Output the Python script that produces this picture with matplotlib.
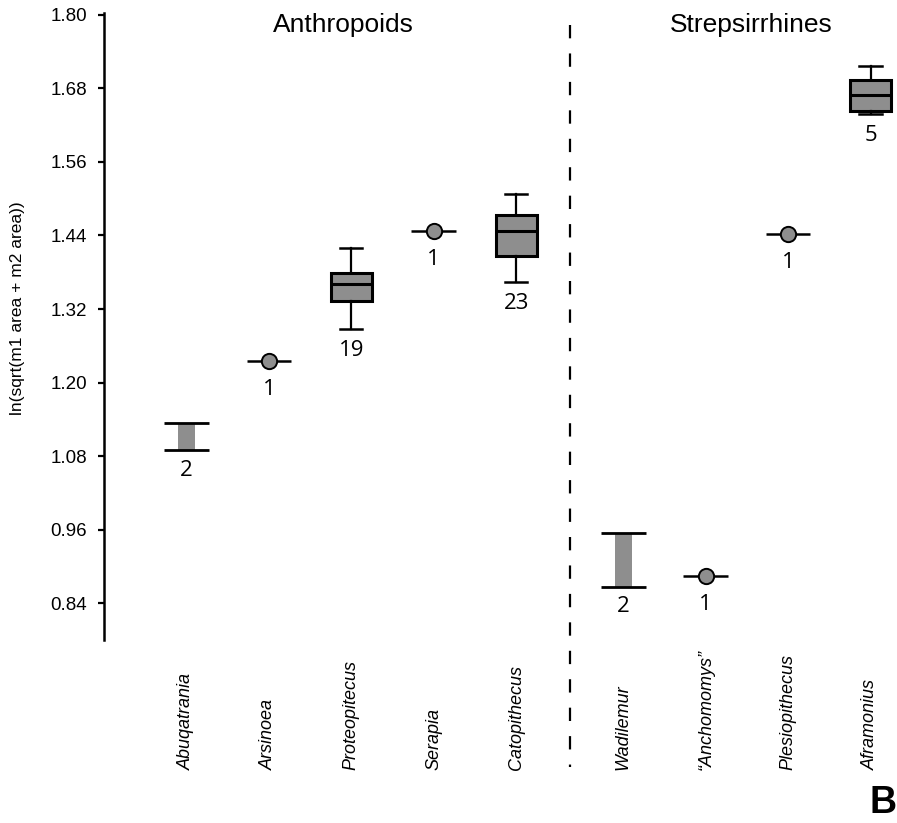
"""Lower molar size (ln sqrt(m1 + m2 area)) of Fayum anthropoids vs strepsirrhines."""
import matplotlib
import numpy as np

matplotlib.use("Agg")
import matplotlib.pyplot as plt  # noqa: E402
from matplotlib.transforms import blended_transform_factory  # noqa: E402

GENERA = [
    "Abuqatrania", "Arsinoea", "Proteopitecus", "Serapia", "Catopithecus",
    "Wadilemur", "\u201cAnchomomys\u201d", "Plesiopithecus", "Aframonius",
]
GROUPS = ["Anthropoids"] * 5 + ["Strepsirrhines"] * 4
COUNTS = [2, 1, 19, 1, 23, 2, 1, 1, 5]

# min / max are whisker ends (or the two specimens, or the single value)
V_MIN = [1.090, 1.235, 1.288, 1.448, 1.364, 0.867, 0.885, 1.443, 1.638]
V_MAX = [1.134, 1.235, 1.419, 1.448, 1.508, 0.955, 0.885, 1.443, 1.717]
Q1 = [np.nan, np.nan, 1.333, np.nan, 1.407, np.nan, np.nan, np.nan, 1.643]
MEDIAN = [np.nan, np.nan, 1.361, np.nan, 1.448, np.nan, np.nan, np.nan, 1.669]
Q3 = [np.nan, np.nan, 1.379, np.nan, 1.473, np.nan, np.nan, np.nan, 1.693]

Y_TICKS = [0.84, 0.96, 1.08, 1.20, 1.32, 1.44, 1.56, 1.68, 1.80]

GRAY = "#8e8e8e"
GROUP_GAP = 0.3


def main() -> None:
    plt.rcParams["font.family"] = ["Liberation Sans", "DejaVu Sans"]

    # x positions: one unit per genus, extra gap between the two groups
    xs, pos = [], 0.0
    for i, g in enumerate(GROUPS):
        if i > 0 and g != GROUPS[i - 1]:
            pos += GROUP_GAP
        xs.append(pos)
        pos += 1

    fig = plt.figure(figsize=(8.97, 8.23), dpi=100)
    ax = fig.add_axes([0.1159, 0.2224, 0.8841, 0.7618])

    box_stats, box_pos = [], []
    for x, n, lo, hi, q1, med, q3 in zip(xs, COUNTS, V_MIN, V_MAX, Q1, MEDIAN, Q3):
        if n == 1:
            ax.hlines(lo, x - 0.27, x + 0.27, color="black", lw=1.8, zorder=2)
            ax.plot(x, lo, "o", ms=11, mfc=GRAY, mec="black", mew=1.4, zorder=3)
            off = 13
        elif n == 2:
            ax.bar(x, hi - lo, bottom=lo, width=0.2, color=GRAY, zorder=1)
            ax.hlines([lo, hi], x - 0.27, x + 0.27, color="black", lw=2.0, zorder=2)
            off = 7
        else:
            box_stats.append(dict(whislo=lo, q1=q1, med=med, q3=q3, whishi=hi, fliers=[]))
            box_pos.append(x)
            off = 8
        ax.annotate(str(n), (x, lo), xytext=(0, -off), textcoords="offset points",
                    ha="center", va="top", fontsize=16,
                    family=["Open Sans", "DejaVu Sans"])

    ax.bxp(box_stats, positions=box_pos, widths=0.5, patch_artist=True,
           showfliers=False,
           boxprops=dict(facecolor=GRAY, edgecolor="black", lw=2.2),
           medianprops=dict(color="black", lw=2.2),
           whiskerprops=dict(color="black", lw=1.6),
           capprops=dict(color="black", lw=1.8),
           capwidths=0.27, zorder=2)

    ax.set_xlim(-1.0, 8.62)
    ax.set_ylim(0.780, 1.803)
    ax.set_yticks(Y_TICKS)
    ax.set_yticklabels([f"{t:.2f}" for t in Y_TICKS], fontsize=13.5)
    ax.tick_params(axis="y", length=4, width=1.6, pad=8)
    ax.set_xticks([])
    for side in ("top", "right", "bottom"):
        ax.spines[side].set_visible(False)
    ax.spines["left"].set_linewidth(1.8)

    trans = blended_transform_factory(ax.transData, ax.transAxes)
    for x, name in zip(xs, GENERA):
        ax.text(x, -0.207, name, transform=trans, rotation=90, ha="center",
                va="bottom", fontsize=13, style="italic")

    # group titles and divider
    for g in dict.fromkeys(GROUPS):
        gx = [x for x, gg in zip(xs, GROUPS) if gg == g]
        ax.text(np.mean(gx) - 0.1 if g == "Anthropoids" else np.mean(gx) + 0.05,
                0.9697, g, transform=trans, ha="center", va="baseline", fontsize=19)
    split = (xs[4] + xs[5]) / 2
    ax.plot([split, split], [0.981, -0.2026], transform=trans, color="black",
            lw=1.6, dashes=(6.0, 6.8), clip_on=False)

    fig.text(18 / 897, 1 - 308 / 823, "ln(sqrt(m1 area + m2 area))", rotation=90,
             ha="center", va="center", fontsize=12.5)
    fig.text(883 / 897, 1 - 803 / 823, "B", ha="center", va="center",
             fontsize=27, weight="bold")

    fig.savefig("out.png", dpi=100)


if __name__ == "__main__":
    main()
